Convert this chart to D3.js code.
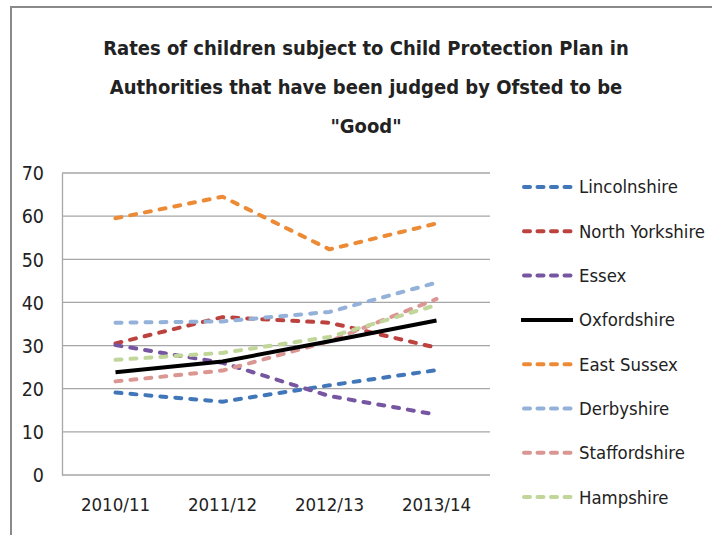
<!DOCTYPE html>
<html>
<head>
<meta charset="utf-8">
<script src="https://cdn.jsdelivr.net/npm/d3@7"></script>
<style>
  body { margin: 0; background: #fff; }
  svg text { font-family: "Liberation Sans Narrow", "DejaVu Sans Condensed", sans-serif; fill: #222; }
</style>
</head>
<body>
<svg width="712" height="535"></svg>
<script>
// data
const years = ["2010/11", "2011/12", "2012/13", "2013/14"];
const authorities = ["Lincolnshire", "North Yorkshire", "Essex", "Oxfordshire",
                     "East Sussex", "Derbyshire", "Staffordshire", "Hampshire"];
const lincolnshire   = [19.1, 17.0, 20.8, 24.3];
const northYorkshire = [30.5, 36.6, 35.3, 29.5];
const essex          = [30.1, 26.0, 18.3, 14.0];
const oxfordshire    = [23.8, 26.3, 31.0, 35.8];
const eastSussex     = [59.5, 64.5, 52.3, 58.3];
const derbyshire     = [35.3, 35.6, 37.8, 44.6];
const staffordshire  = [21.7, 24.2, 31.0, 40.8];
const hampshire      = [26.7, 28.3, 32.0, 39.4];
const yTicks = [0, 10, 20, 30, 40, 50, 60, 70];

const seriesValues = [lincolnshire, northYorkshire, essex, oxfordshire,
                      eastSussex, derbyshire, staffordshire, hampshire];
const colours = ["#4177b9", "#bb423e", "#7756a1", "#000000",
                 "#ec8a35", "#93b1d9", "#da9693", "#c1d699"];

let svg = d3.select("svg");

// chart frame (only top & left edge are visible in the picture)
svg.append("path")
   .attr("d", "M11,540 V7 H720")
   .attr("fill", "none")
   .attr("stroke", "#8a8a8a")
   .attr("stroke-width", 2);

// title
let titleLines = ["Rates of children subject to Child Protection Plan in",
                  "Authorities that have been judged by Ofsted to be",
                  "\"Good\""];
svg.append("g").selectAll("text")
   .data(titleLines)
   .enter().append("text")
   .attr("x", 366)
   .attr("y", (d, i) => 55 + i * 39)
   .attr("text-anchor", "middle")
   .style("font-size", "20px")
   .style("font-weight", "bold")
   .text(d => d);

let x = d3.scaleBand().domain(years).range([62, 490]);
let y = d3.scaleLinear().domain([0, 70]).range([475, 173]);

// gridlines
svg.append("g")
   .selectAll("line")
   .data(yTicks)
   .enter().append("line")
   .attr("x1", 62).attr("x2", 490)
   .attr("y1", d => y(d)).attr("y2", d => y(d))
   .attr("stroke", "#a6a6a6")
   .attr("stroke-width", 1.3);

// y axis
let yAxis = d3.axisLeft(y).tickValues(yTicks).tickSize(0).tickPadding(18);
let gy = svg.append("g").attr("transform", "translate(62,0)").call(yAxis);
gy.select(".domain").attr("stroke", "#a6a6a6").attr("stroke-width", 1.3);
gy.selectAll("text").style("font-size", "19.5px").attr("dy", "0.35em");

// x axis
let xAxis = d3.axisBottom(x).tickSize(0).tickPadding(23);
let gx = svg.append("g").attr("transform", "translate(0,475)").call(xAxis);
gx.select(".domain").remove();
gx.selectAll("text").style("font-size", "18.5px");

// lines
let line = d3.line()
   .x((d, i) => x(years[i]) + x.bandwidth() / 2)
   .y(d => y(d));

let order = [0, 1, 2, 4, 5, 6, 7, 3];
svg.append("g")
   .selectAll("path")
   .data(order)
   .enter().append("path")
   .attr("d", k => line(seriesValues[k]))
   .attr("fill", "none")
   .attr("stroke", k => colours[k])
   .attr("stroke-width", 4)
   .attr("stroke-linecap", k => k == 3 ? "butt" : "round")
   .attr("stroke-linejoin", "round")
   .attr("stroke-dasharray", k => k == 3 ? null : "6,9");

// legend
let legend = svg.append("g").selectAll("g")
   .data(authorities)
   .enter().append("g")
   .attr("transform", (d, i) => "translate(0," + (187 + i * 44.3) + ")");

legend.append("line")
   .attr("x1", (d, i) => i == 3 ? 521 : 524)
   .attr("x2", (d, i) => i == 3 ? 573 : 571)
   .attr("stroke", (d, i) => colours[i])
   .attr("stroke-width", 4)
   .attr("stroke-linecap", (d, i) => i == 3 ? "butt" : "round")
   .attr("stroke-dasharray", (d, i) => i == 3 ? null : "6,7.5");

legend.append("text")
   .attr("x", 579)
   .attr("dy", "0.35em")
   .style("font-size", "18.4px")
   .text(d => d);
</script>
</body>
</html>
